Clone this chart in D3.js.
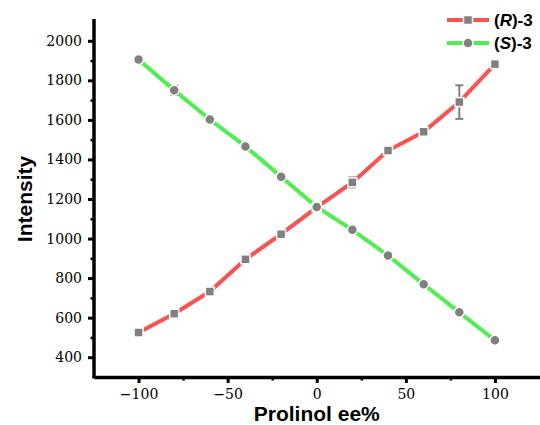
<!DOCTYPE html>
<html>
<head>
<meta charset="utf-8">
<script src="https://cdn.jsdelivr.net/npm/d3@7"></script>
<style>
  body { margin: 0; background: #fff; }
  svg { display: block; }
</style>
</head>
<body>
<div id="chart"></div>
<script>
// data
const eeValues = [-100, -80, -60, -40, -20, 0, 20, 40, 60, 80, 100];
const rValues = [525, 620, 732, 895, 1022, 1158, 1284, 1445, 1540, 1690, 1882];
const rErrors = [8, 10, 6, 6, 6, 8, 25, 6, 6, 85, 6];
const sValues = [1905, 1750, 1602, 1466, 1313, 1160, 1044, 914, 769, 627, 486];
const sErrors = [16, 22, 6, 6, 6, 10, 6, 6, 6, 12, 6];
const xTicks = [-100, -50, 0, 50, 100];
const yTicks = [400, 600, 800, 1000, 1200, 1400, 1600, 1800, 2000];

const width = 540;
const height = 425;

const x = d3.scaleLinear().domain([-125, 125]).range([94, 539.5]);
const y = d3.scaleLinear().domain([300, 2100]).range([377, 21]);

const svg = d3.select("#chart").append("svg")
    .attr("width", width)
    .attr("height", height);

const tickFont = "DejaVu Serif, Liberation Serif, serif";
const labelFont = "Liberation Sans, Arial, sans-serif";

// minor ticks
svg.append("g")
    .attr("transform", `translate(0,377)`)
    .call(d3.axisBottom(x).tickValues([-75, -25, 25, 75]).tickSize(3.5).tickFormat(""))
    .call(g => g.select(".domain").remove())
    .call(g => g.selectAll("line").attr("stroke-width", 2.5));

svg.append("g")
    .attr("transform", `translate(94,0)`)
    .call(d3.axisLeft(y).tickValues(d3.range(500, 2100, 200)).tickSize(3.5).tickFormat(""))
    .call(g => g.select(".domain").remove())
    .call(g => g.selectAll("line").attr("stroke-width", 2.5));

// major axes
const xAxis = svg.append("g")
    .attr("transform", `translate(0,377)`)
    .call(d3.axisBottom(x).tickValues(xTicks).tickSize(6).tickPadding(6).tickSizeOuter(0)
        .tickFormat(d => d < 0 ? "\u2212" + Math.abs(d) : d));
xAxis.attr("font-family", tickFont).attr("font-size", 14);
xAxis.select(".domain").attr("stroke-width", 3.5);
xAxis.selectAll("line").attr("stroke-width", 3);
xAxis.selectAll("text").attr("fill", "#000");

const yAxis = svg.append("g")
    .attr("transform", `translate(94,0)`)
    .call(d3.axisLeft(y).tickValues(yTicks).tickSize(6).tickPadding(6).tickSizeOuter(0)
        .tickFormat(d3.format("d")));
yAxis.attr("font-family", tickFont).attr("font-size", 14);
yAxis.select(".domain").attr("stroke-width", 3.5).attr("d", `M0,19V378.5`);
yAxis.selectAll("line").attr("stroke-width", 3);
yAxis.selectAll("text").attr("fill", "#000");

// axis titles
svg.append("text")
    .attr("x", x(0))
    .attr("y", 421)
    .attr("text-anchor", "middle")
    .attr("font-family", labelFont)
    .attr("font-weight", "bold")
    .attr("font-size", 21)
    .text("Prolinol ee%");

svg.append("text")
    .attr("transform", `translate(32,${(y(300) + y(2100)) / 2}) rotate(-90)`)
    .attr("text-anchor", "middle")
    .attr("font-family", labelFont)
    .attr("font-weight", "bold")
    .attr("font-size", 21)
    .text("Intensity");

const series = [
    { name: "R", values: rValues, errors: rErrors, color: "#ff5050", shape: "square" },
    { name: "S", values: sValues, errors: sErrors, color: "#4cf04c", shape: "circle" }
];

const line = d3.line().x(d => x(d[0])).y(d => y(d[1]));

function drawMarker(g, shape, cx, cy) {
    if (shape === "square") {
        g.append("rect")
            .attr("x", cx - 4.5).attr("y", cy - 4.5)
            .attr("width", 9).attr("height", 9)
            .attr("fill", "#808080")
            .attr("stroke", "#fff").attr("stroke-width", 1.5);
    } else {
        g.append("circle")
            .attr("cx", cx).attr("cy", cy).attr("r", 5)
            .attr("fill", "#808080")
            .attr("stroke", "#fff").attr("stroke-width", 1.5);
    }
}

series.forEach(s => {
    const pts = eeValues.map((e, i) => [e, s.values[i]]);
    svg.append("path")
        .datum(pts)
        .attr("d", line)
        .attr("fill", "none")
        .attr("stroke", s.color)
        .attr("stroke-width", 4);
});

series.forEach(s => {
    const g = svg.append("g");
    eeValues.forEach((e, i) => {
        const cx = x(e);
        const v = s.values[i];
        const err = s.errors[i];
        const y0 = y(v - err), y1 = y(v + err);
        g.append("line").attr("x1", cx).attr("x2", cx).attr("y1", y0).attr("y2", y1)
            .attr("stroke", "#808080").attr("stroke-width", 2);
        [y0, y1].forEach(yy => g.append("line")
            .attr("x1", cx - 4).attr("x2", cx + 4).attr("y1", yy).attr("y2", yy)
            .attr("stroke", "#808080").attr("stroke-width", 2));
        drawMarker(g, s.shape, cx, y(v));
    });
});

// legend
const legend = svg.append("g");
series.forEach((s, i) => {
    const ly = 20 + i * 23;
    legend.append("line")
        .attr("x1", 447).attr("x2", 489).attr("y1", ly).attr("y2", ly)
        .attr("stroke", s.color).attr("stroke-width", 4);
    drawMarker(legend, s.shape, 468, ly);
    const t = legend.append("text")
        .attr("x", 494).attr("y", ly + 6)
        .attr("font-family", labelFont)
        .attr("font-weight", "bold")
        .attr("font-size", 17);
    t.append("tspan").text("(");
    t.append("tspan").attr("font-style", "italic").text(s.name);
    t.append("tspan").text(")-3");
});
</script>
</body>
</html>
